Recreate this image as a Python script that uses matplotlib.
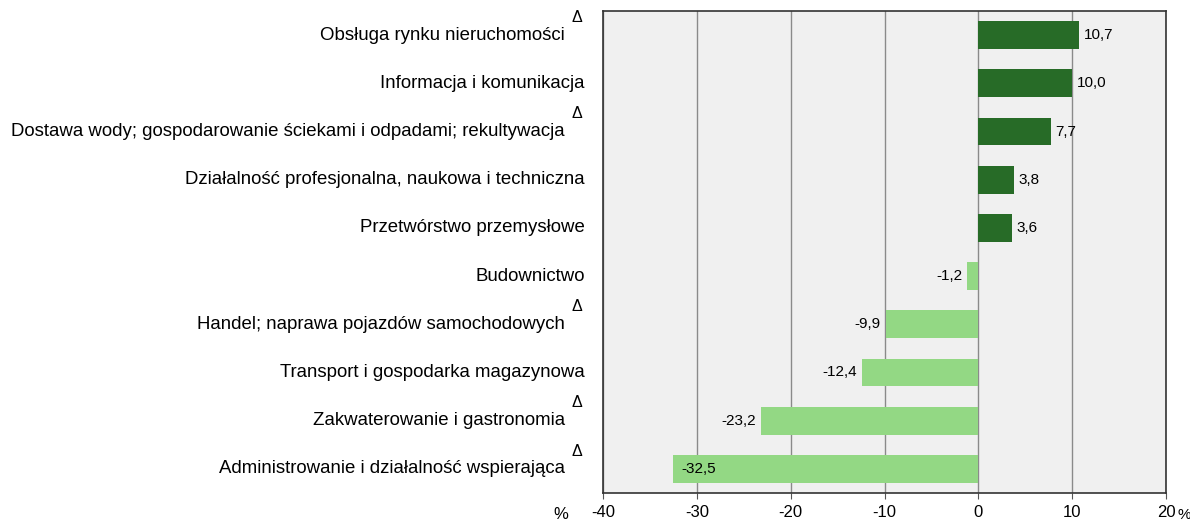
import numpy as np
import matplotlib.pyplot as plt

plt.rcParams['font.family'] = ['Liberation Sans', 'DejaVu Sans']

kategorie = [
    "Obsługa rynku nieruchomości",
    "Informacja i komunikacja",
    "Dostawa wody; gospodarowanie ściekami i odpadami; rekultywacja",
    "Działalność profesjonalna, naukowa i techniczna",
    "Przetwórstwo przemysłowe",
    "Budownictwo",
    "Handel; naprawa pojazdów samochodowych",
    "Transport i gospodarka magazynowa",
    "Zakwaterowanie i gastronomia",
    "Administrowanie i działalność wspierająca",
]
wartosci = [10.7, 10.0, 7.7, 3.8, 3.6, -1.2, -9.9, -12.4, -23.2, -32.5]
delta = [True, False, True, False, False, False, True, False, True, True]
xticks = [-40, -30, -20, -10, 0, 10, 20]

fig = plt.figure(figsize=(11.9, 5.25), dpi=100)
ax = fig.add_axes([0.5067, 0.061, 0.4733, 0.918])
ax.set_facecolor('#f0f0f0')

y = np.arange(len(kategorie))
kolory = ['#276b27' if v > 0 else '#93d884' for v in wartosci]
ax.barh(y, wartosci, height=0.58, color=kolory, zorder=2)

ax.set_xlim(-40, 20)
ax.set_ylim(len(kategorie) - 0.5, -0.5)
ax.set_xticks(xticks)
ax.set_xticklabels([str(t) for t in xticks], fontsize=12)
ax.tick_params(axis='x', length=4, color='#555555', pad=5)
ax.set_yticks([])
ax.grid(axis='x', color='#8a8a8a', linewidth=1, zorder=1)
for s in ax.spines.values():
    s.set_color('#333333')
    s.set_linewidth(1.2)

# etykiety kategorii
tr = ax.get_yaxis_transform()
for i, (nazwa, d) in enumerate(zip(kategorie, delta)):
    if d:
        ax.text(-0.0675, i, nazwa, transform=tr, ha='right', va='center', fontsize=13.4)
        ax.text(-0.046, i - 0.37, "Δ", transform=tr, ha='center', va='center', fontsize=11.5)
    else:
        ax.text(-0.032, i, nazwa, transform=tr, ha='right', va='center', fontsize=13.4)

# etykiety wartości
for i, v in enumerate(wartosci):
    txt = f"{v:.1f}".replace('.', ',')
    if v > 0:
        ax.text(v + 0.5, i, txt, ha='left', va='center', fontsize=11, zorder=3)
    elif v < -30:
        ax.text(v + 0.8, i, txt, ha='left', va='center', fontsize=11, zorder=3)
    else:
        ax.text(v - 0.5, i, txt, ha='right', va='center', fontsize=11, zorder=3)

ax.text(-0.075, -0.045, "%", transform=ax.transAxes, ha='center', va='center', fontsize=12)
ax.text(1.02, -0.045, "%", transform=ax.transAxes, ha='left', va='center', fontsize=11)

plt.savefig('out.png', dpi=100)
